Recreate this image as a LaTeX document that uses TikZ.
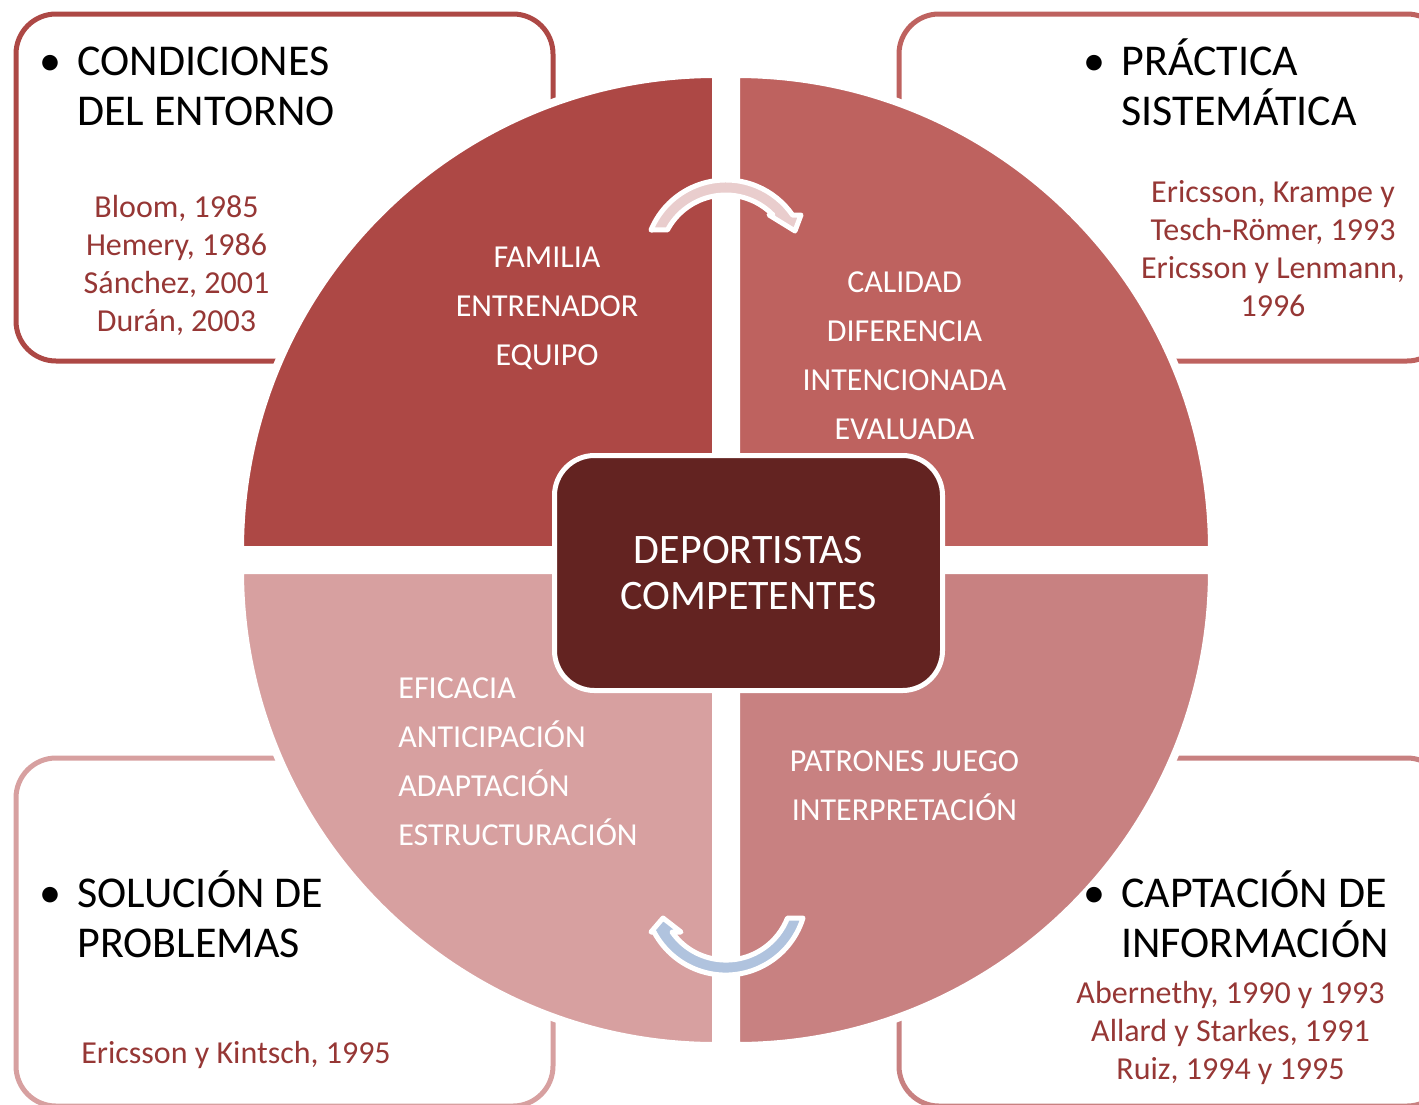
\documentclass[tikz,border=0pt]{standalone}
\usepackage{fontspec}
\setmainfont{Carlito}
\definecolor{tlred}{HTML}{AD4845}
\definecolor{trred}{HTML}{BE625F}
\definecolor{blred}{HTML}{D7A0A0}
\definecolor{brred}{HTML}{C88181}
\definecolor{corered}{HTML}{632321}
\definecolor{refred}{HTML}{963735}
\definecolor{arrowpink}{HTML}{E9CDCD}
\definecolor{arrowblue}{HTML}{B0C3DE}
\tikzset{
	box/.style={draw=#1, line width=2.5pt, rounded corners=20pt},
	quarter/.style={fill=#1, draw=white, line width=4pt},
	bend/.style={fill=#1, draw=white, line width=2.5pt, line join=round},
	heading/.style={font=\fontsize{22}{25}\selectfont, align=left, anchor=base west, inner sep=0pt},
	refs/.style={font=\fontsize{16}{19}\selectfont, text=refred, align=center, inner sep=0pt},
	quadtext/.style={font=\fontsize{16}{24.5}\selectfont, text=white, align=center, inner sep=0pt},
	core/.style={fill=corered, draw=white, line width=2.5pt, rounded corners=20pt,
		minimum width=194pt, minimum height=117.5pt, text=white, align=center,
		font=\fontsize{21}{23}\selectfont}
}
\newcommand{\bul}{\llap{\textbullet\hspace{8pt}}}
\begin{document}
\begin{tikzpicture}[x=.5pt, y=-.5pt]
	\useasboundingbox (0,0) rectangle (1419,1104);
	\clip (0,0) rectangle (1419,1104);
	%boxes
	\draw[box=tlred] (16,14) rectangle (553,361);
	\draw[box=trred] (899,14) rectangle (1447,361);
	\draw[box=blred] (16,758) rectangle (553,1106);
	\draw[box=brred] (899,758) rectangle (1447,1106);
	%quarters
	\foreach \ang/\col/\px/\py in {180/tlred/716/550, 270/trred/736/550, 90/blred/716/570, 0/brred/736/570}
	\filldraw[quarter=\col] (\px,\py) -- ++(\ang:476)
		arc[start angle=\ang, delta angle=90, radius=476] -- cycle;
	%arrows
	\filldraw[bend=arrowpink] (651,230) arc[start angle=-157.5, end angle=-34.6, radius=81]
		-- (801,215) -- (795,231) -- (769,215) -- (773,215)
		arc[start angle=-44.2, end angle=-151.9, radius=66] -- cycle;
	\filldraw[bend=arrowblue] (803,918) arc[start angle=17.2, end angle=152, radius=81]
		-- (651,932) -- (663,918) -- (681,932) -- (672,932)
		arc[start angle=144.9, end angle=21.3, radius=66] -- cycle;
	%centre
	\node[core] (athletes) at (748.5,573) {DEPORTISTAS\\COMPETENTES};
	%quarter texts
	\node[quadtext] (env) at (547,308) {FAMILIA\\ENTRENADOR\\EQUIPO};
	\node[quadtext] (prac) at (904.5,355.5) {CALIDAD\\DIFERENCIA\\INTENCIONADA\\EVALUADA};
	\node[quadtext, align=left, anchor=west] (solv) at (398,761.5) {EFICACIA\\ANTICIPACIÓN\\ADAPTACIÓN\\ESTRUCTURACIÓN};
	\node[quadtext] (info) at (904.5,786) {PATRONES JUEGO\\INTERPRETACIÓN};
	%headings
	\node[heading] (envhead) at (77,125) {\bul CONDICIONES\\DEL ENTORNO};
	\node[heading] (prachead) at (1121,125) {\bul PRÁCTICA\\SISTEMÁTICA};
	\node[heading] (solvhead) at (77,957) {\bul SOLUCIÓN DE\\PROBLEMAS};
	\node[heading] (infohead) at (1121,957) {\bul CAPTACIÓN DE\\INFORMACIÓN};
	%references
	\node[refs] (envref) at (176.5,265) {Bloom, 1985\\Hemery, 1986\\Sánchez, 2001\\Durán, 2003};
	\node[refs] (pracref) at (1273,249) {Ericsson, Krampe y\\Tesch-Römer, 1993\\Ericsson y Lenmann,\\1996};
	\node[refs] (solvref) at (236,1055) {Ericsson y Kintsch, 1995};
	\node[refs] (inforef) at (1230.5,1033) {Abernethy, 1990 y 1993\\Allard y Starkes, 1991\\Ruiz, 1994 y 1995};
\end{tikzpicture}
\end{document}
